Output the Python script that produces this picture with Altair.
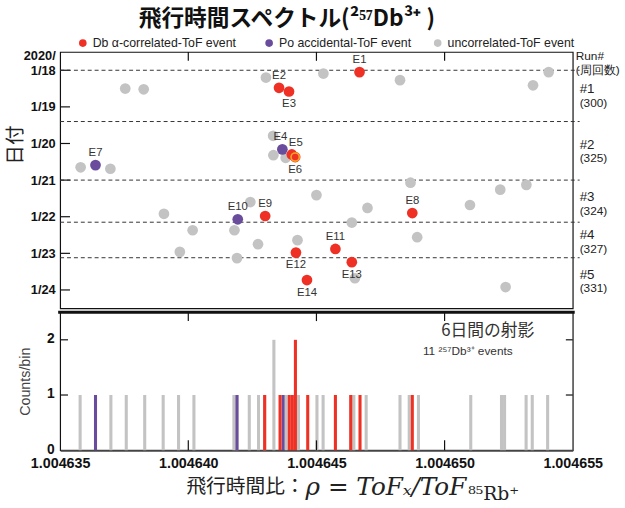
import altair as alt
import numpy as np
import pandas as pd

# ---------------- data ----------------
CAT_RED = "Db α-correlated-ToF event"
CAT_PUR = "Po accidental-ToF event"
CAT_GRY = "uncorrelated-ToF event"
cats = [CAT_RED, CAT_PUR, CAT_GRY]
cat_colors = ["#ee3124", "#6a4c9c", "#c3c3c3"]

# Db alpha-correlated ToF events (red)
red_labels = ["E1", "E2", "E3", "E5", "E6", "E8", "E9", "E11", "E12", "E13", "E14"]
red_rho = [1.00464668, 1.00464354, 1.00464393, 1.00464404, 1.00464417, 1.00464874,
           1.00464300, 1.00464574, 1.00464420, 1.00464638, 1.00464463]
red_day = [18.05, 18.48, 18.58, 20.30, 20.37, 21.90, 21.98, 22.88, 22.98, 23.24, 23.73]
red_pos = ["above", "above", "below", "above_r", "below", "above", "above", "above",
           "below", "below", "below"]

# Po accidental ToF events (purple)
pur_labels = ["E4", "E7", "E10"]
pur_rho = [1.00464367, 1.00463638, 1.00464193]
pur_day = [20.16, 20.59, 22.07]
pur_pos = ["above_l", "above", "above"]

# uncorrelated ToF events (gray)
gry_rho = [1.00464303, 1.00463754, 1.00463826, 1.00464331, 1.00464332, 1.00464380,
           1.00463580, 1.00463696, 1.00464500, 1.00464242, 1.00463905, 1.00464017,
           1.00464180, 1.00464426, 1.00464272, 1.00463967, 1.00464190, 1.00464527,
           1.00464826, 1.00465406, 1.00465345, 1.00464867, 1.00464699, 1.00464638,
           1.00465099, 1.00465217, 1.00465319, 1.00464893, 1.00464650, 1.00465238]
gry_day = [18.20, 18.50, 18.52, 19.79, 20.32, 20.39,
           20.65, 20.69, 21.41, 21.60, 21.92, 22.37,
           22.37, 22.64, 22.75, 22.96, 23.13, 18.09,
           18.27, 18.05, 18.41, 21.07, 21.76, 22.16,
           21.68, 21.26, 21.13, 22.56, 23.68, 23.92]

highlight = ["E6"]

# run separators (date) and run annotations
sep_days = [18.0, 19.4, 21.0, 22.15, 23.12]
run_names = ["#1", "#2", "#3", "#4", "#5"]
run_counts = ["(300)", "(325)", "(324)", "(327)", "(331)"]
run_mid = [18.70, 20.22, 21.65, 22.70, 23.77]
run_header = ["Run#", "(周回数)"]
run_header_day = [17.62, 18.0]

date_ticks = [17.6, 18, 19, 20, 21, 22, 23, 24]
x_ticks = [1.004635, 1.004640, 1.004645, 1.004650, 1.004655]
count_ticks = [0, 1, 2]

TITLE = "飛行時間スペクトル(²⁵⁷Db³⁺ )"
BASE = 1.004635
STEP = 1.2e-7  # histogram bin width

# ---------------- frames ----------------
pts = pd.concat([
    pd.DataFrame({"rho": gry_rho, "day": gry_day, "cat": CAT_GRY}),
    pd.DataFrame({"rho": pur_rho, "day": pur_day, "cat": CAT_PUR}),
    pd.DataFrame({"rho": red_rho, "day": red_day, "cat": CAT_RED}),
], ignore_index=True)

lab = pd.concat([
    pd.DataFrame({"label": red_labels, "rho": red_rho, "day": red_day, "pos": red_pos}),
    pd.DataFrame({"label": pur_labels, "rho": pur_rho, "day": pur_day, "pos": pur_pos}),
], ignore_index=True)

rows = []
for cat in [CAT_GRY, CAT_PUR, CAT_RED]:
    sub = pts[pts["cat"] == cat]
    idx = np.floor((sub["rho"].values - BASE) / STEP + 1e-6).astype(int)
    u, c = np.unique(idx, return_counts=True)
    for i, n in zip(u, c):
        rows.append({"start": float(BASE + i * STEP), "end": float(BASE + (i + 1) * STEP),
                     "count": int(n), "cat": cat})
hist = pd.DataFrame(rows)

W, H1, H2 = 520, 260, 140
FONT = "Liberation Sans"
JP = "Noto Sans CJK JP"

color_scale = alt.Scale(domain=cats, range=cat_colors)
xscale = alt.Scale(domain=[x_ticks[0], x_ticks[-1]], nice=False, zero=False)
yscale = alt.Scale(domain=[17.5, 24.5], reverse=True, nice=False, zero=False)
cscale = alt.Scale(domain=[0, 2.5], nice=False, zero=True)

# shared axis definitions (identical object in every layer so they merge cleanly)
YAX_TOP = alt.Axis(values=date_ticks,
                   labelExpr="datum.value < 18 ? '2020/' : '1/' + datum.value",
                   labelFont=FONT, labelFontWeight="bold", labelFontSize=13,
                   labelColor="#111", labelPadding=5, labelOverlap=False,
                   ticks=False, domain=False, grid=False,
                   title="日付", titleFont=JP, titleFontSize=20,
                   titleFontWeight="normal", titleColor="#222",
                   titleX=-35, titleY=94)
XAX_BOT = alt.Axis(values=x_ticks, format=".6f", labelFont=FONT,
                   labelFontWeight="bold", labelFontSize=14.5,
                   labelColor="#111", labelPadding=7, labelFlush=False,
                   labelOverlap=False,
                   ticks=False, domain=True, domainColor="#444",
                   domainWidth=2, grid=False, title=None)
CAX_BOT = alt.Axis(values=count_ticks, format="d", labelFont=FONT,
                   labelFontWeight="bold", labelFontSize=14,
                   labelColor="#111", labelPadding=6, labelOverlap=False,
                   labelOffset=-1,
                   ticks=False, domain=False, grid=False,
                   title="Counts/bin", titleFont=FONT, titleFontSize=14.5,
                   titleFontWeight="normal", titleColor="#444",
                   titleX=-28, titleY=H2 / 2)

XT = dict(scale=xscale, axis=None)
YT = dict(scale=yscale, axis=YAX_TOP)
XB = dict(scale=xscale, axis=XAX_BOT)
CB = dict(scale=cscale, axis=CAX_BOT)

# ---------------- top panel ----------------
left_ticks = alt.Chart(pd.DataFrame({"day": date_ticks[1:]})).mark_rule(
    color="#111", strokeWidth=1.2).encode(
    y=alt.Y("day:Q", **YT), x=alt.value(0), x2=alt.value(10))

seps = alt.Chart(pd.DataFrame({"day": sep_days})).mark_rule(
    strokeDash=[4, 3], color="#333", strokeWidth=1).encode(
    y=alt.Y("day:Q", **YT), x=alt.value(0), x2=alt.value(W + 7))

top_ticks = alt.Chart(pd.DataFrame({"rho": x_ticks[1:-1]})).mark_rule(
    color="#111", strokeWidth=1.2).encode(
    x=alt.X("rho:Q", **XT), y=alt.value(0), y2=alt.value(9))

points = alt.Chart(pts).mark_circle(size=118, opacity=1).encode(
    x=alt.X("rho:Q", **XT),
    y=alt.Y("day:Q", **YT),
    color=alt.Color("cat:N", scale=color_scale, legend=None),
)

hl = alt.Chart(lab).transform_filter(
    alt.FieldOneOfPredicate(field="label", oneOf=highlight)
).mark_point(shape="circle", filled=False, color="#f7a520", strokeWidth=1.6,
             size=70, opacity=1).encode(
    x=alt.X("rho:Q", **XT), y=alt.Y("day:Q", **YT))


def label_layer(pos, dx, dy):
    return alt.Chart(lab).transform_filter(
        alt.FieldEqualPredicate(field="pos", equal=pos)
    ).mark_text(dx=dx, dy=dy, font=FONT, fontSize=11.5, color="#333").encode(
        x=alt.X("rho:Q", **XT), y=alt.Y("day:Q", **YT), text="label:N")


label_layers = [label_layer("above", 0, -12), label_layer("below", 0, 13),
                label_layer("above_l", -2, -12), label_layer("above_r", 4, -12)]

run_df = pd.DataFrame({"name": run_names, "cnt": run_counts, "day": run_mid})
run_name_txt = alt.Chart(run_df).mark_text(
    align="left", dy=-7, font=FONT, fontSize=13.5, color="#222").encode(
    x=alt.value(W + 7), y=alt.Y("day:Q", **YT), text="name:N")
run_cnt_txt = alt.Chart(run_df).mark_text(
    align="left", dy=7, font=FONT, fontSize=12, color="#222").encode(
    x=alt.value(W + 7), y=alt.Y("day:Q", **YT), text="cnt:N")
hdr_txt = alt.Chart(pd.DataFrame({"t": run_header, "day": run_header_day})).mark_text(
    align="left", font=FONT, fontSize=12, color="#222").encode(
    x=alt.value(W + 3), y=alt.Y("day:Q", **YT), text="t:N")

title_txt = alt.Chart(pd.DataFrame({"t": [TITLE]})).mark_text(
    align="center", baseline="middle", font=JP, fontSize=23, fontWeight="bold",
    color="#111").encode(x=alt.value(230), y=alt.value(-33), text="t:N")

# legend drawn from the category list
legend_x = [23, 212, 383]
legend_layers = []
for cat, col, lx in zip(cats, cat_colors, legend_x):
    ldf = pd.DataFrame({"cat": [cat]})
    legend_layers.append(alt.Chart(ldf).mark_circle(size=60, opacity=1, color=col).encode(
        x=alt.value(lx), y=alt.value(-9)))
    legend_layers.append(alt.Chart(ldf).mark_text(
        align="left", baseline="middle", font=FONT, fontSize=12.5, color="#222").encode(
        x=alt.value(lx + 10), y=alt.value(-9), text="cat:N"))

top = alt.layer(left_ticks, seps, top_ticks, points, hl, *label_layers,
                run_name_txt, run_cnt_txt, hdr_txt, title_txt,
                *legend_layers).properties(width=W, height=H1)

# ---------------- bottom panel ----------------
bars = alt.Chart(hist).mark_bar(opacity=1).encode(
    x=alt.X("start:Q", **XB),
    x2="end:Q",
    y=alt.Y("count:Q", stack=None, **CB),
    y2=alt.datum(0),
    color=alt.Color("cat:N", scale=color_scale, legend=None),
)

b_top_ticks = alt.Chart(pd.DataFrame({"rho": x_ticks[1:-1]})).mark_rule(
    color="#111", strokeWidth=1.2).encode(
    x=alt.X("rho:Q", **XB), y=alt.value(0), y2=alt.value(9))
b_bot_ticks = alt.Chart(pd.DataFrame({"rho": x_ticks[1:-1]})).mark_rule(
    color="#111", strokeWidth=1.2).encode(
    x=alt.X("rho:Q", **XB), y=alt.value(H2 - 10), y2=alt.value(H2))
b_left_ticks = alt.Chart(pd.DataFrame({"c": count_ticks[1:]})).mark_rule(
    color="#111", strokeWidth=1.2).encode(
    y=alt.Y("c:Q", **CB), x=alt.value(0), x2=alt.value(8))
b_right_ticks = alt.Chart(pd.DataFrame({"c": count_ticks[1:]})).mark_rule(
    color="#111", strokeWidth=1.2).encode(
    y=alt.Y("c:Q", **CB), x=alt.value(W - 7), x2=alt.value(W))
thick = alt.Chart(pd.DataFrame({"a": [0]})).mark_rule(
    color="#111", strokeWidth=3).encode(
    y=alt.value(0), x=alt.value(-2), x2=alt.value(W + 2))

ann1 = alt.Chart(pd.DataFrame({"t": ["6日間の射影"]})).mark_text(
    align="right", baseline="middle", font=JP, fontSize=17, color="#333").encode(
    x=alt.value(481), y=alt.value(19), text="t:N")
ann2 = alt.Chart(pd.DataFrame({"t": ["11   ²⁵⁷Db³⁺ events"]})).mark_text(
    align="left", baseline="middle", font=FONT, fontSize=12, color="#333").encode(
    x=alt.value(368), y=alt.value(39), text="t:N")

xt1 = alt.Chart(pd.DataFrame({"t": ["飛行時間比："]})).mark_text(
    align="right", baseline="middle", font=JP, fontSize=20, color="#222").encode(
    x=alt.value(248), y=alt.value(177), text="t:N")
xt2 = alt.Chart(pd.DataFrame({"t": ["ρ = ToFₓ/ToF"]})).mark_text(
    align="left", baseline="middle", font="DejaVu Serif", fontStyle="italic",
    fontSize=25, color="#222").encode(
    x=alt.value(249), y=alt.value(177), text="t:N")
xt3 = alt.Chart(pd.DataFrame({"t": ["⁸⁵Rb⁺"]})).mark_text(
    align="left", baseline="middle", font="DejaVu Serif", fontSize=19,
    color="#222").encode(
    x=alt.value(414), y=alt.value(185), text="t:N")

bottom = alt.layer(bars, b_top_ticks, b_bot_ticks, b_left_ticks, b_right_ticks,
                   thick, ann1, ann2, xt1, xt2, xt3).properties(width=W, height=H2)

chart = alt.vconcat(top, bottom, spacing=0).properties(
    padding={"left": 5, "top": 4, "right": 5, "bottom": 5}
).configure_view(
    stroke="#111", strokeWidth=1.2
).configure_axis(labelOverlap=False)

chart.save("out.html", embed_options={"renderer": "svg", "actions": False})
